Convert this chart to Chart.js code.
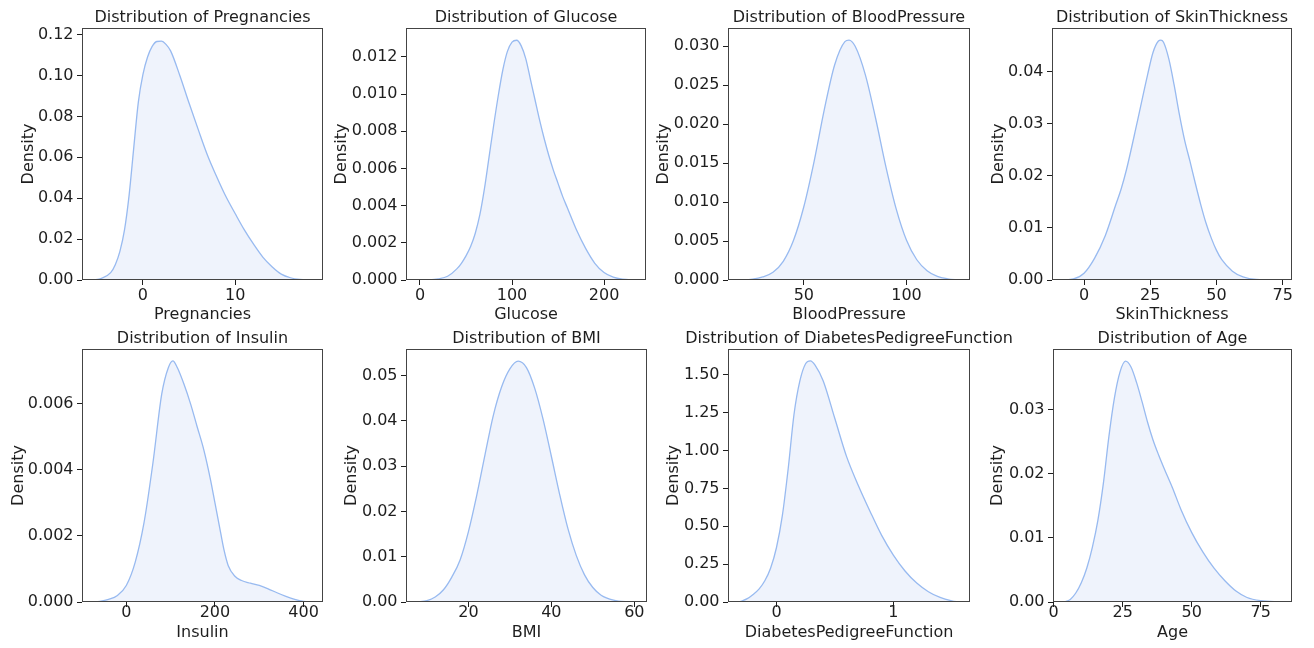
<!DOCTYPE html>
<html><head><meta charset="utf-8">
<script src="https://cdn.jsdelivr.net/npm/chart.js@4.4.1/dist/chart.umd.min.js"></script>
<style>
html,body{margin:0;padding:0;background:#fff;}
#wrap{position:relative;width:1314px;height:648px;overflow:hidden;background:#fff;}
canvas{position:absolute;}
</style></head><body><div id="wrap"></div>
<script>
// ---------------- data ----------------
const pregnanciesX = [-5.42, -4.5, -3.5, -3, -2.5, -2, -1.5, -1, -0.5, 0, 0.5, 1, 1.5, 2, 2.5, 3, 4, 5, 6, 7, 8, 9, 10, 11, 12, 13, 14, 15, 16, 17, 18.34];
const pregnanciesDensity = [0, 0.0008, 0.0036, 0.0075, 0.014, 0.0245, 0.0415, 0.0645, 0.087, 0.1005, 0.109, 0.1142, 0.1166, 0.1168, 0.1152, 0.112, 0.1, 0.0865, 0.0735, 0.061, 0.0505, 0.0408, 0.0325, 0.0245, 0.0175, 0.0112, 0.0065, 0.0029, 0.0011, 0.0003, 0];
const pregnanciesXTicks = ['0', '10'];
const pregnanciesYTicks = ['0.00', '0.02', '0.04', '0.06', '0.08', '0.10', '0.12'];

const glucoseX = [-3.4, 10, 20, 30, 40, 45, 50, 55, 60, 65, 70, 75, 80, 85, 90, 95, 100, 105, 110, 115, 120, 125, 130, 135, 140, 145, 150, 155, 160, 170, 180, 190, 200, 210, 220, 233.8];
const glucoseDensity = [0, 0.00001, 0.00006, 0.0002, 0.0006, 0.0009, 0.0013, 0.0018, 0.0025, 0.0035, 0.0049, 0.0066, 0.0083, 0.0099, 0.0113, 0.0123, 0.0128, 0.0129, 0.0126, 0.0119, 0.0108, 0.0097, 0.0086, 0.0076, 0.0067, 0.0059, 0.0052, 0.0045, 0.0039, 0.0027, 0.0017, 0.0009, 0.0004, 0.00015, 0.00004, 0];
const glucoseXTicks = ['0', '100', '200'];
const glucoseYTicks = ['0.000', '0.002', '0.004', '0.006', '0.008', '0.010', '0.012'];

const bloodPressureX = [18.45, 25, 30, 35, 40, 45, 50, 55, 60, 65, 70, 72, 75, 80, 85, 90, 95, 100, 105, 110, 115, 120, 125.5];
const bloodPressureDensity = [0, 0.00012, 0.0004, 0.001, 0.0024, 0.0051, 0.0094, 0.0152, 0.0219, 0.0276, 0.0306, 0.0308, 0.030, 0.0263, 0.0207, 0.0145, 0.0091, 0.0051, 0.0026, 0.0012, 0.00047, 0.00015, 0];
const bloodPressureXTicks = ['50', '100'];
const bloodPressureYTicks = ['0.000', '0.005', '0.010', '0.015', '0.020', '0.025', '0.030'];

const skinThicknessX = [-8, -4, 0, 4, 8, 12, 14, 16, 20, 24, 26, 28, 29, 30, 32, 34, 36, 38, 40, 42, 44, 46, 48, 50, 52, 56, 60, 65, 74.4];
const skinThicknessDensity = [0, 0.0002, 0.0013, 0.0042, 0.0085, 0.0145, 0.0175, 0.0212, 0.0302, 0.0395, 0.0437, 0.0459, 0.0461, 0.0457, 0.0425, 0.0375, 0.0318, 0.0268, 0.0228, 0.0186, 0.0146, 0.011, 0.0081, 0.0057, 0.0039, 0.0017, 0.0006, 0.0001, 0];
const skinThicknessXTicks = ['0', '25', '50', '75'];
const skinThicknessYTicks = ['0.00', '0.01', '0.02', '0.03', '0.04'];

const insulinX = [-75.2, -60, -40, -20, 0, 20, 40, 60, 80, 95, 105, 115, 130, 145, 160, 175, 190, 200, 210, 220, 230, 245, 260, 280, 300, 320, 340, 360, 380, 400, 419];
const insulinDensity = [0, 0.00002, 0.00008, 0.0002, 0.0005, 0.0012, 0.0024, 0.0042, 0.0063, 0.0071, 0.0073, 0.0071, 0.0066, 0.006, 0.0053, 0.0046, 0.0037, 0.003, 0.0023, 0.0016, 0.0011, 0.00078, 0.00065, 0.00057, 0.0005, 0.0004, 0.00028, 0.00017, 0.00008, 0.00002, 0];
const insulinXTicks = ['0', '200', '400'];
const insulinYTicks = ['0.000', '0.002', '0.004', '0.006'];

const bmiX = [7.6, 10, 12, 14, 16, 18, 20, 22, 24, 26, 28, 30, 32, 34, 36, 38, 40, 42, 44, 46, 48, 50, 52, 55, 58, 60.4];
const bmiDensity = [0, 0.0003, 0.0011, 0.0027, 0.0055, 0.0093, 0.0155, 0.0235, 0.0325, 0.0412, 0.0475, 0.0515, 0.0532, 0.0518, 0.0472, 0.0404, 0.0322, 0.0238, 0.0162, 0.0103, 0.006, 0.0032, 0.0015, 0.0004, 0.00005, 0];
const bmiXTicks = ['20', '40', '60'];
const bmiYTicks = ['0.00', '0.01', '0.02', '0.03', '0.04', '0.05'];

const pedigreeX = [-0.321, -0.25, -0.2, -0.15, -0.1, -0.05, 0, 0.05, 0.1, 0.15, 0.2, 0.25, 0.29, 0.33, 0.4, 0.5, 0.6, 0.7, 0.8, 0.9, 1.0, 1.1, 1.2, 1.3, 1.4, 1.5, 1.562];
const pedigreeDensity = [0, 0.022, 0.05, 0.085, 0.14, 0.225, 0.36, 0.57, 0.88, 1.24, 1.46, 1.575, 1.593, 1.565, 1.46, 1.21, 0.96, 0.77, 0.6, 0.44, 0.31, 0.205, 0.125, 0.068, 0.03, 0.008, 0];
const pedigreeXTicks = ['0', '1'];
const pedigreeYTicks = ['0.00', '0.25', '0.50', '0.75', '1.00', '1.25', '1.50'];

const ageX = [3.7, 6, 8, 10, 12, 14, 16, 18, 20, 22, 24, 26, 28, 30, 32, 34, 36, 38, 40, 43, 46, 50, 54, 58, 62, 66, 70, 75, 82.4];
const ageDensity = [0, 0.0004, 0.0014, 0.003, 0.0053, 0.0085, 0.0127, 0.0185, 0.0258, 0.0318, 0.0358, 0.0375, 0.0366, 0.0342, 0.0312, 0.028, 0.0252, 0.0229, 0.0208, 0.0178, 0.0145, 0.0108, 0.0078, 0.0053, 0.0033, 0.0017, 0.0007, 0.0002, 0];
const ageXTicks = ['0', '25', '50', '75'];
const ageYTicks = ['0.00', '0.01', '0.02', '0.03'];

const panelNames = ['Pregnancies', 'Glucose', 'BloodPressure', 'SkinThickness', 'Insulin', 'BMI', 'DiabetesPedigreeFunction', 'Age'];
const panelX = [pregnanciesX, glucoseX, bloodPressureX, skinThicknessX, insulinX, bmiX, pedigreeX, ageX];
const panelY = [pregnanciesDensity, glucoseDensity, bloodPressureDensity, skinThicknessDensity, insulinDensity, bmiDensity, pedigreeDensity, ageDensity];
const panelXTicks = [pregnanciesXTicks, glucoseXTicks, bloodPressureXTicks, skinThicknessXTicks, insulinXTicks, bmiXTicks, pedigreeXTicks, ageXTicks];
const panelYTicks = [pregnanciesYTicks, glucoseYTicks, bloodPressureYTicks, skinThicknessYTicks, insulinYTicks, bmiYTicks, pedigreeYTicks, ageYTicks];

// ---------------- layout (positions / axis limits) ----------------
const layouts = [
  {box: [82, 28, 323, 280],    xRange: [-6.61, 19.53],  yMax: 0.1232,  yGap: 53.4, row: 0},
  {box: [406, 28, 646, 280],   xRange: [-15.2, 245.6],  yMax: 0.01356, yGap: 64.3, row: 0},
  {box: [728, 28, 970, 280],   xRange: [13.1, 130.9],   yMax: 0.03235, yGap: 64.0, row: 0},
  {box: [1052, 28, 1292, 280], xRange: [-12.1, 78.5],   yMax: 0.04845, yGap: 53.4, row: 0},
  {box: [82, 349, 323, 602],   xRange: [-99.9, 443.7],  yMax: 0.00766, yGap: 63.4, row: 1},
  {box: [406, 349, 647, 602],  xRange: [4.96, 63.06],   yMax: 0.0559,  yGap: 54.3, row: 1},
  {box: [728, 349, 970, 602],  xRange: [-0.415, 1.656], yMax: 1.671,   yGap: 54.3, row: 1},
  {box: [1053, 349, 1292, 602],xRange: [-0.25, 86.3],   yMax: 0.0394,  yGap: 55.0, row: 1}
];

const FONT = "'DejaVu Sans', 'Liberation Sans', sans-serif";
const TEXT = '#1e1e1e';
const M = 100, T = 27, B = 45;
const rowTickPad = [1.4, -3.4];
const rowXTitleGap = [34.5, 31.2];

const axesBox = {
  id: 'axesBox',
  afterDraw(chart) {
    const {ctx, chartArea: a} = chart;
    ctx.save();
    ctx.strokeStyle = '#444';
    ctx.lineWidth = 1;
    ctx.strokeRect(Math.round(a.left) + 0.5, Math.round(a.top) + 0.5,
                   Math.round(a.right - a.left) - 1, Math.round(a.bottom - a.top) - 1);
    ctx.restore();
  }
};

const wrap = document.getElementById('wrap');
panelNames.forEach((name, i) => {
  const L = layouts[i];
  const boxW = L.box[2] - L.box[0], boxH = L.box[3] - L.box[1];
  const cv = document.createElement('canvas');
  cv.width = boxW + 2 * M;
  cv.height = T + boxH + B;
  cv.style.left = (L.box[0] - M) + 'px';
  cv.style.top = (L.box[1] - T) + 'px';
  cv.style.width = cv.width + 'px';
  cv.style.height = cv.height + 'px';
  wrap.appendChild(cv);

  const xLabels = panelXTicks[i], yLabels = panelYTicks[i];
  const xVals = xLabels.map(parseFloat), yVals = yLabels.map(parseFloat);
  const pts = panelX[i].map((x, k) => ({x: x, y: panelY[i][k]}));

  new Chart(cv.getContext('2d'), {
    type: 'line',
    data: {datasets: [{
      data: pts,
      yAxisID: 'y',
      borderColor: 'rgb(152,186,240)',
      borderWidth: 1.3,
      backgroundColor: '#eff3fc',
      fill: 'origin',
      pointRadius: 0,
      cubicInterpolationMode: 'monotone'
    }]},
    options: {
      responsive: false,
      animation: false,
      devicePixelRatio: 1,
      events: [],
      layout: {padding: 0},
      plugins: {
        legend: {display: false},
        tooltip: {enabled: false},
        title: {
          display: true,
          text: 'Distribution of ' + name,
          color: TEXT,
          font: {family: FONT, size: 16, weight: 'normal', lineHeight: 1},
          padding: {top: 9.3, bottom: 1.7}
        }
      },
      scales: {
        x: {
          type: 'linear',
          min: L.xRange[0], max: L.xRange[1],
          afterBuildTicks: s => { s.ticks = xVals.map(v => ({value: v})); },
          afterFit: s => { s.height = B; },
          ticks: {
            callback: (v, k) => xLabels[k],
            color: TEXT, font: {family: FONT, size: 16},
            padding: rowTickPad[L.row], maxRotation: 0, autoSkip: false
          },
          grid: {display: true, drawOnChartArea: false, drawTicks: true, tickLength: 5, tickColor: TEXT, tickWidth: 1},
          border: {display: false},
          title: {
            display: true, text: name, color: TEXT,
            font: {family: FONT, size: 16, lineHeight: 1},
            padding: {top: 0, bottom: B - 8 - rowXTitleGap[L.row]}
          }
        },
        y: {
          type: 'linear',
          position: 'left',
          min: 0, max: L.yMax,
          afterBuildTicks: s => { s.ticks = yVals.map(v => ({value: v})); },
          afterFit: s => { s.width = M; },
          ticks: {
            callback: (v, k) => yLabels[k],
            color: TEXT, font: {family: FONT, size: 16},
            padding: 3.5, autoSkip: false
          },
          grid: {display: true, drawOnChartArea: false, drawTicks: true, tickLength: 5, tickColor: TEXT, tickWidth: 1},
          border: {display: false},
          title: {
            display: true, text: 'Density', color: TEXT,
            font: {family: FONT, size: 16, lineHeight: 1},
            padding: {top: M - 8 - L.yGap, bottom: 0}
          }
        },
        spacer: {
          type: 'linear',
          position: 'right',
          display: true,
          afterFit: s => { s.width = M; },
          ticks: {display: false},
          grid: {display: false},
          border: {display: false}
        }
      }
    },
    plugins: [axesBox]
  });
});
</script>
</body></html>
